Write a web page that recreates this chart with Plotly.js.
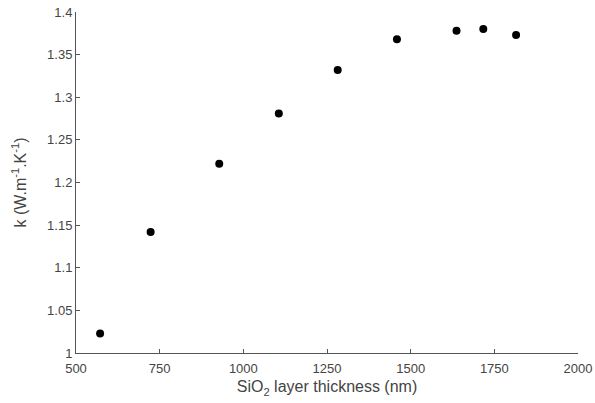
<!DOCTYPE html>
<html>
<head>
<meta charset="utf-8">
<script src="https://cdn.plot.ly/plotly-3.0.1.min.js"></script>
<style>html,body{margin:0;padding:0;background:#fff;}#chart{width:595px;height:403px;}</style>
</head>
<body>
<div id="chart"></div>
<script>
const thickness = [572, 723, 928, 1106, 1282, 1459, 1637, 1717, 1815];
const conductivity = [1.023, 1.142, 1.222, 1.281, 1.332, 1.368, 1.378, 1.380, 1.373];
const xTicks = [500, 750, 1000, 1250, 1500, 1750, 2000];
const yTicks = [1, 1.05, 1.1, 1.15, 1.2, 1.25, 1.3, 1.35, 1.4];
const yTickText = ['1', '1.05', '1.1', '1.15', '1.2', '1.25', '1.3', '1.35', '1.4'];

const trace = {
  x: thickness, y: conductivity, type: 'scatter', mode: 'markers',
  marker: {color: '#000', size: 8}, hoverinfo: 'skip'
};
const axisCommon = {
  showgrid: false, zeroline: false, showline: true, linecolor: '#555', linewidth: 1,
  ticks: 'inside', ticklen: 4, tickcolor: '#555', mirror: false,
  tickfont: {family: 'Liberation Sans, Arial, sans-serif', size: 13, color: '#444'}
};
const layout = {
  width: 595, height: 403,
  margin: {l: 76, r: 17, t: 12, b: 50},
  paper_bgcolor: '#fff', plot_bgcolor: '#fff',
  showlegend: false,
  xaxis: Object.assign({}, axisCommon, {
    range: [500, 2000], tickvals: xTicks, ticktext: xTicks.map(String),
    ticklabelstandoff: 3,
    title: {text: 'SiO<sub>2</sub> layer thickness (nm)', standoff: 6,
      font: {family: 'Liberation Sans, Arial, sans-serif', size: 16, color: '#444'}}
  }),
  yaxis: Object.assign({}, axisCommon, {
    range: [1, 1.4], tickvals: yTicks, ticktext: yTickText,
    title: {text: 'k (W.m<sup>-1</sup>.K<sup>-1</sup>)', standoff: 16,
      font: {family: 'Liberation Sans, Arial, sans-serif', size: 16, color: '#444'}}
  })
};
Plotly.newPlot('chart', [trace], layout, {displayModeBar: false, staticPlot: true});
</script>
</body>
</html>
